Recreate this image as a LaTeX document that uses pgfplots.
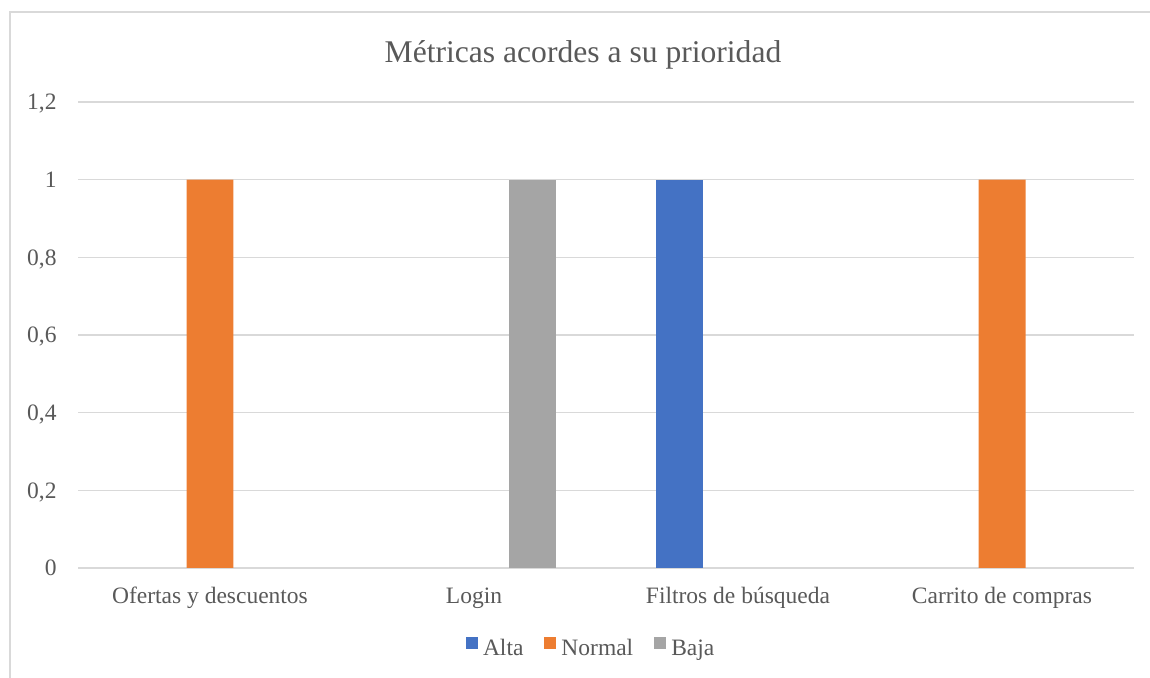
\documentclass[border=0pt]{standalone}
\usepackage{fontspec}
\setmainfont{Liberation Serif}
\usepackage{pgfplots}
\pgfplotsset{compat=1.18}
\definecolor{alta}{HTML}{4472C4}
\definecolor{normal}{HTML}{ED7D31}
\definecolor{baja}{HTML}{A5A5A5}
\definecolor{txt}{HTML}{595959}
\definecolor{grd}{HTML}{D9D9D9}
\begin{document}
\begin{tikzpicture}
\useasboundingbox (0,0) rectangle (575pt,339pt);
\draw[grd, line width=0.7pt] (5pt,0pt) -- (5pt,333pt) -- (576pt,333pt);
\node[anchor=base, text=txt, font=\fontsize{15.8}{18}\selectfont, inner sep=0pt] at (291.5pt,307.8pt) {Métricas acordes a su prioridad};
\begin{axis}[
  at={(39pt,55pt)}, anchor=south west,
  scale only axis, width=528pt, height=233pt,
  xmin=-0.5, xmax=3.5, ymin=0, ymax=1.2,
  xtick={0,1,2,3},
  xticklabels={Ofertas y descuentos, Login, Filtros de búsqueda, Carrito de compras},
  ytick={0,0.2,0.4,0.6,0.8,1,1.2},
  /pgf/number format/.cd, use comma, assume math mode=true,
  /pgfplots/.cd,
  axis line style={draw=none},
  major tick length=0pt,
  ymajorgrids,
  grid style={grd, line width=0.75pt},
  tick label style={text=txt, font=\fontsize{11.75}{14}\selectfont, inner sep=0pt},
  xticklabel style={anchor=base, yshift=-18pt},
  yticklabel style={anchor=base east, xshift=-10.5pt, yshift=-4pt},
  ybar, bar width=0.178,
  legend columns=-1,
  legend style={draw=none, at={(0.485,-0.172)}, anchor=center,
    font=\fontsize{11.75}{14}\selectfont, text=txt,
    nodes={inner sep=0pt},
    /tikz/every even column/.append style={column sep=10.5pt},
    /tikz/every odd column/.append style={column sep=2.5pt}},
  legend image code/.code={\fill[#1] (0pt,0pt) rectangle (6pt,6pt);},
]
\addplot[fill=alta, draw=none, bar shift=-0.22] coordinates {(2,1)};
\addplot[fill=normal, draw=none, bar shift=0] coordinates {(0,1) (3,1)};
\addplot[fill=baja, draw=none, bar shift=0.22] coordinates {(1,1)};
\legend{Alta, Normal, Baja}
\end{axis}
\end{tikzpicture}
\end{document}
